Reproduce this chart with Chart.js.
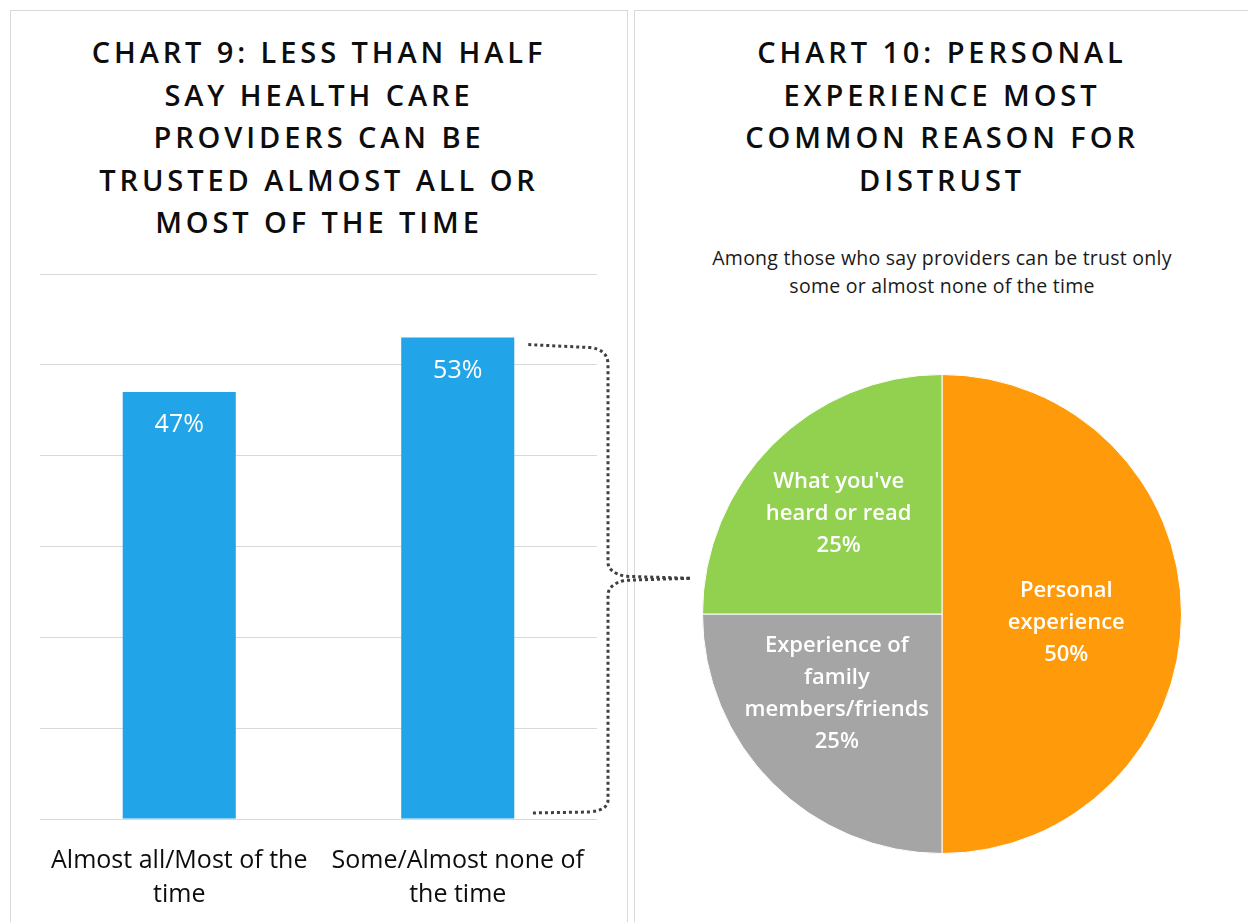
<!DOCTYPE html>
<html>
<head>
<meta charset="utf-8">
<script src="https://cdn.jsdelivr.net/npm/chart.js@4/dist/chart.umd.min.js"></script>
<style>
  html, body { margin: 0; padding: 0; background: #fff; }
  body { width: 1248px; height: 922px; position: relative; overflow: hidden; font-family: "Open Sans", sans-serif; }
  .panel { position: absolute; top: 10px; height: 960px; border: 1px solid #d9d9d9; box-sizing: border-box; }
  .title { position: absolute; text-align: center; font-weight: 600; font-size: 29px; line-height: 42.5px;
           letter-spacing: 3.9px; color: #0d0d0d; }
  .sub { position: absolute; text-align: center; font-size: 19.5px; line-height: 28px; letter-spacing: 0.25px; color: #1a1a1a; }
  canvas { position: absolute; }
</style>
</head>
<body>
<div class="panel" style="left:10px; width:618px;"></div>
<div class="panel" style="left:634px; width:640px;"></div>

<div class="title" style="left:10px; width:618px; top:31px;">CHART 9: LESS THAN HALF<br>SAY HEALTH CARE<br>PROVIDERS CAN BE<br>TRUSTED ALMOST ALL OR<br>MOST OF THE TIME</div>
<div class="title" style="left:634px; width:616px; top:31px;">CHART 10: PERSONAL<br>EXPERIENCE MOST<br>COMMON REASON FOR<br>DISTRUST</div>
<div class="sub" style="left:634px; width:616px; top:244px;">Among those who say providers can be trust only<br>some or almost none of the time</div>

<canvas id="bars" width="720" height="922" style="left:0; top:0;"></canvas>
<canvas id="pie" width="480" height="480" style="left:702px; top:374px;"></canvas>

<script>
// Chart 9 – Vertrauen in Gesundheitsdienstleister
var BAR_LABELS = [['Almost all/Most of the', 'time'], ['Some/Almost none of', 'the time']];
var BAR_VALUES = [47, 53];
var BAR_MAX = 60;
var BAR_STEP = 10;

// Chart 10 – Gründe für Misstrauen
var PIE_LABELS = [['Personal', 'experience'], ['Experience of', 'family', 'members/friends'], ["What you've", 'heard or read']];
var PIE_VALUES = [50, 25, 25];
var PIE_COLORS = ['#ff9a0a', '#a5a5a5', '#92d050'];

var BLUE = '#21a4e8';
var FONT = '"Open Sans", sans-serif';

// Prozentwerte oben in den Balken
var barValueLabels = {
  id: 'barValueLabels',
  afterDatasetsDraw: function (chart) {
    var ctx = chart.ctx;
    ctx.save();
    ctx.fillStyle = '#fff';
    ctx.font = '25px ' + FONT;
    ctx.textAlign = 'center';
    ctx.textBaseline = 'middle';
    chart.getDatasetMeta(0).data.forEach(function (bar, i) {
      ctx.fillText(BAR_VALUES[i] + '%', bar.x, bar.y + 33);
    });
    ctx.restore();
  }
};

// gepunktete Klammer vom zweiten Balken hinüber zum Kreis
var bracket = {
  id: 'bracket',
  afterDraw: function (chart) {
    var bar = chart.getDatasetMeta(0).data[1];
    var y = chart.scales.y;
    var top = bar.y + 7, bot = y.getPixelForValue(0) - 6;
    var mid = (bar.y + y.getPixelForValue(0)) / 2;
    var x0 = bar.x + bar.width / 2 + 14, xv = 608, xe = 690;
    var ctx = chart.ctx;
    ctx.save();
    ctx.strokeStyle = '#404040';
    ctx.lineWidth = 3;
    ctx.setLineDash([3, 3]);
    ctx.beginPath();
    ctx.moveTo(x0, top);
    ctx.lineTo(xv - 18, top + 3);
    ctx.quadraticCurveTo(xv, top + 5, xv, top + 20);
    ctx.lineTo(xv, mid - 16);
    ctx.quadraticCurveTo(xv, mid - 6, xv + 17, mid - 2);
    ctx.lineTo(xe, mid);
    ctx.stroke();
    ctx.beginPath();
    ctx.moveTo(xe, mid);
    ctx.lineTo(xv + 17, mid + 2);
    ctx.quadraticCurveTo(xv, mid + 6, xv, mid + 17);
    ctx.lineTo(xv, bot - 13);
    ctx.quadraticCurveTo(xv, bot - 3, xv - 18, bot - 1);
    ctx.lineTo(x0 + 2, bot);
    ctx.stroke();
    ctx.restore();
  }
};

new Chart(document.getElementById('bars').getContext('2d'), {
  type: 'bar',
  data: {
    labels: BAR_LABELS,
    datasets: [{ data: BAR_VALUES, backgroundColor: BLUE, barPercentage: 0.406, categoryPercentage: 1 }]
  },
  options: {
    responsive: false, animation: false,
    layout: { padding: { left: 40, right: 123, top: 274, bottom: 0 } },
    plugins: { legend: { display: false }, tooltip: { enabled: false } },
    scales: {
      x: {
        grid: { display: false }, border: { display: false },
        ticks: { color: '#0d0d0d', font: { family: FONT, size: 25, lineHeight: 1.36 }, padding: 17, maxRotation: 0 },
        afterFit: function (s) { s.height = 103; }
      },
      y: {
        min: 0, max: BAR_MAX,
        ticks: { display: false, stepSize: BAR_STEP },
        grid: { color: '#d9d9d9', drawTicks: false },
        border: { display: false },
        afterFit: function (s) { s.width = 0; }
      }
    }
  },
  plugins: [barValueLabels, bracket]
});

// Beschriftung innerhalb der Segmente (Abstand vom Mittelpunkt, Winkelkorrektur in Grad)
var LABEL_R = [0.52, 0.55, 0.6];
var LABEL_DA = [4, 8, -1];
var pieLabels = {
  id: 'pieLabels',
  afterDatasetsDraw: function (chart) {
    var ctx = chart.ctx;
    ctx.save();
    ctx.fillStyle = '#fff';
    ctx.font = '600 22px ' + FONT;
    ctx.textAlign = 'center';
    ctx.textBaseline = 'middle';
    chart.getDatasetMeta(0).data.forEach(function (arc, i) {
      var a = (arc.startAngle + arc.endAngle) / 2 + LABEL_DA[i] * Math.PI / 180;
      var r = arc.outerRadius * LABEL_R[i];
      var cx = arc.x + Math.cos(a) * r, cy = arc.y + Math.sin(a) * r;
      var lines = PIE_LABELS[i].concat([PIE_VALUES[i] + '%']);
      var lh = 32, y0 = cy - (lines.length - 1) * lh / 2;
      lines.forEach(function (t, k) { ctx.fillText(t, cx, y0 + k * lh); });
    });
    ctx.restore();
  }
};

new Chart(document.getElementById('pie').getContext('2d'), {
  type: 'pie',
  data: {
    labels: PIE_LABELS,
    datasets: [{ data: PIE_VALUES, backgroundColor: PIE_COLORS, borderColor: '#ffffff', borderWidth: 1 }]
  },
  options: {
    responsive: false, animation: false,
    plugins: { legend: { display: false }, tooltip: { enabled: false } }
  },
  plugins: [pieLabels]
});
</script>
</body>
</html>
